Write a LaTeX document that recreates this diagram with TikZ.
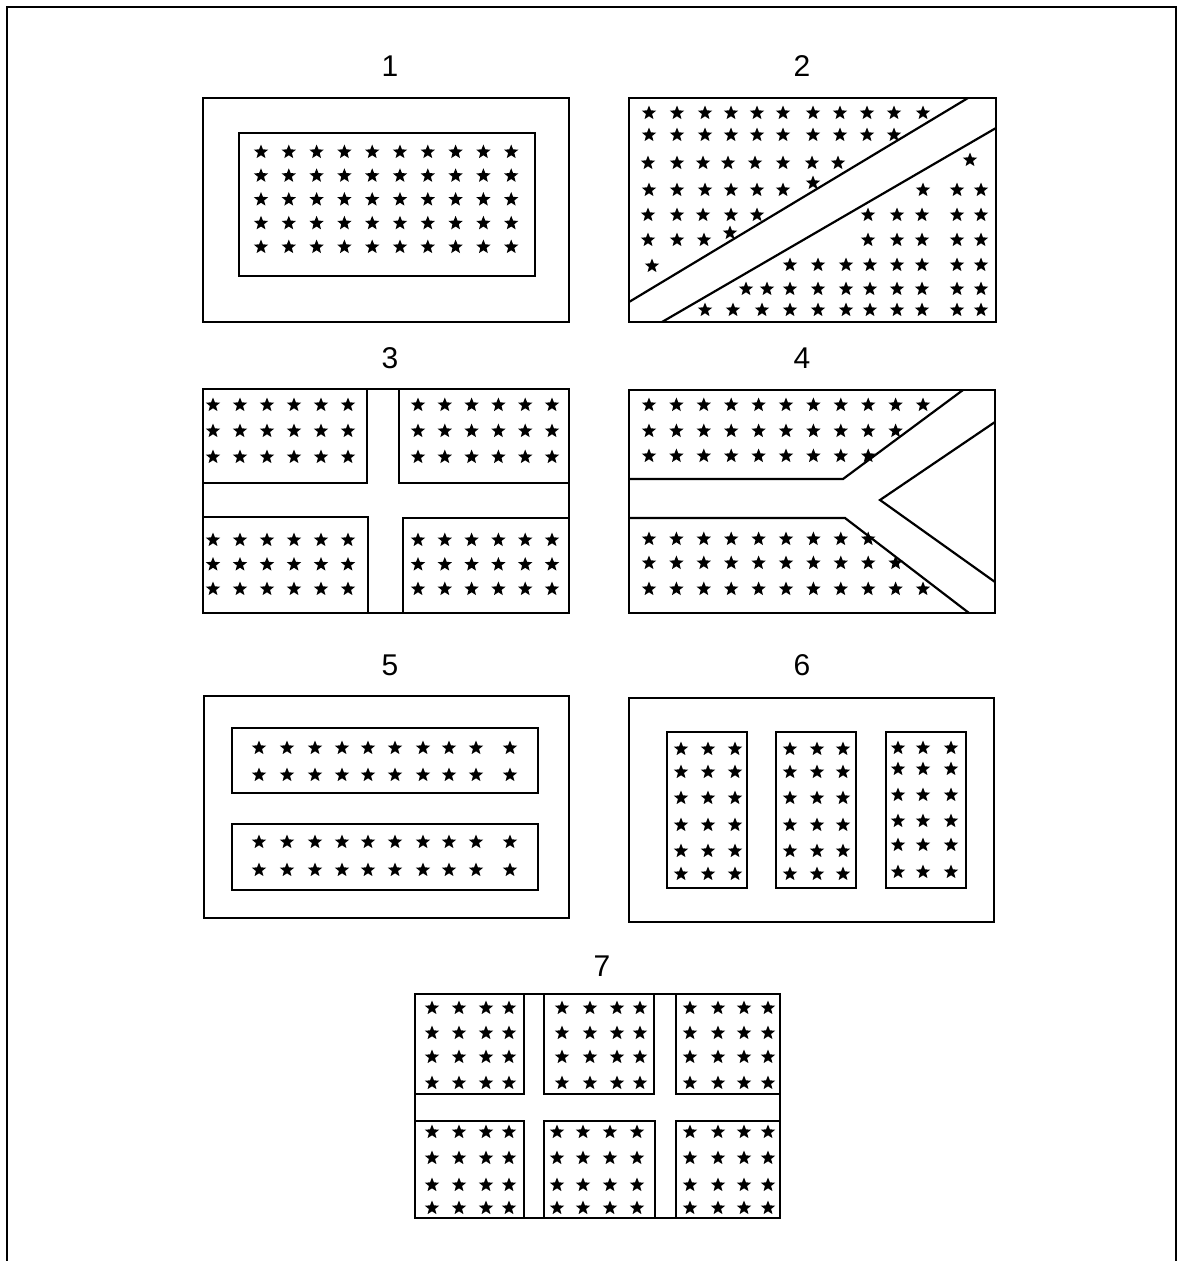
\documentclass[tikz,border=0pt]{standalone}
\usepackage{fontspec}
\setmainfont{Liberation Sans}
\usetikzlibrary{shapes.geometric}
% star positions of flag 2 (irregular, so listed by hand)
\newcommand{\flagTwoStars}{649/113,677/113,705/113,731/113,757/113,783/113,813/113,840/113,867/113,894/113,923/113,
  649/135,677/135,705/135,731/135,757/135,783/135,813/135,840/135,867/135,894/135,
  648/163,677/163,703/163,728/163,755/163,783/163,812/163,838/163,970/160,
  649/190,677/190,705/190,731/190,757/190,783/190,813/183,923/190,957/190,981/190,
  648/215,677/215,703/215,731/215,757/215,868/215,897/215,922/215,957/215,981/215,
  648/240,677/240,704/240,730/233,868/240,897/240,922/240,957/240,981/240,
  652/266,790/265,818/265,846/265,870/265,897/265,922/265,957/265,981/265,
  746/289,767/289,790/289,818/289,846/289,870/289,897/289,922/289,957/289,981/289,
  705/310,733/310,762/310,790/310,818/310,846/310,870/310,897/310,922/310,957/310,981/310}

\begin{document}
\begin{tikzpicture}[x=1pt, y=-1pt,
    flag/.style={line width=2.2pt},
    flagstar/.style={star, star points=5, star point ratio=2.3, fill=black, inner sep=0pt, minimum size=15pt},
    panelnum/.style={font=\fontsize{30}{36}\selectfont}]
  \useasboundingbox (0,0) rectangle (1178,1261);
  \draw[line width=2.5pt] (7,1261) -- (7,7) -- (1176,7) -- (1176,1261);

  % panel numbers
  \node[panelnum] (n1) at (390,66) {1};
  \node[panelnum] (n2) at (802,66) {2};
  \node[panelnum] (n3) at (390,358) {3};
  \node[panelnum] (n4) at (802,358) {4};
  \node[panelnum] (n5) at (390,665) {5};
  \node[panelnum] (n6) at (802,665) {6};
  \node[panelnum] (n7) at (602,966) {7};

  % flag 1
  \draw[flag] (203,98) rectangle (569,322);
  \draw[flag] (239,133) rectangle (535,276);
  \foreach \i in {0,...,9} \foreach \j in {0,...,4}
    \node[flagstar] (a\i\j) at ({261+27.8*\i},{152+23.75*\j}) {};

  % flag 2
  \draw[flag] (629,98) rectangle (996,322);
  \draw[flag] (629,302) -- (968,98);
  \draw[flag] (662,322) -- (996,128);
  \foreach \x/\y [count=\k] in \flagTwoStars
    \node[flagstar] (b\k) at (\x,\y) {};

  % flag 3
  \draw[flag] (203,389) rectangle (569,613);
  \draw[flag] (203,389) rectangle (367,483);
  \draw[flag] (399,389) rectangle (569,483);
  \draw[flag] (203,517) rectangle (368,613);
  \draw[flag] (403,518) rectangle (569,613);
  \foreach \i in {0,...,5} \foreach \j in {0,...,2} {
    \node[flagstar] (c1\i\j) at ({213+27*\i},{405+26*\j}) {};
    \node[flagstar] (c2\i\j) at ({418+26.8*\i},{405+26*\j}) {};
    \node[flagstar] (c3\i\j) at ({213+27*\i},{540+24.5*\j}) {};
    \node[flagstar] (c4\i\j) at ({418+26.8*\i},{540+24.5*\j}) {};
  }

  % flag 4
  \draw[flag] (629,390) rectangle (995,613);
  \draw[flag] (629,479) -- (843,479) -- (963,390);
  \draw[flag] (629,518) -- (845,518) -- (969,613);
  \draw[flag] (995,422) -- (880,500) -- (995,582);
  \foreach \y/\n [count=\r] in {405/10,431/9,456/8,539/8,563/9,589/10}
    \foreach \i in {0,...,\n}
      \node[flagstar] (d\r\i) at ({649+27.4*\i},\y) {};

  % flag 5
  \draw[flag] (204,696) rectangle (569,918);
  \draw[flag] (232,728) rectangle (538,793);
  \draw[flag] (232,824) rectangle (538,890);
  \foreach \x [count=\i] in {259,287,315,342,368,395,423,449,476,510}
    \foreach \y [count=\j] in {748,775,842,870}
      \node[flagstar] (e\i\j) at (\x,\y) {};

  % flag 6
  \draw[flag] (629,698) rectangle (994,922);
  \draw[flag] (667,732) rectangle (747,888);
  \draw[flag] (776,732) rectangle (856,888);
  \draw[flag] (886,732) rectangle (966,888);
  \foreach \y [count=\j] in {749,772,798,825,851,874} {
    \foreach \x [count=\i] in {681,708,735} \node[flagstar] (f1\i\j) at (\x,\y) {};
    \foreach \x [count=\i] in {790,817,843} \node[flagstar] (f2\i\j) at (\x,\y) {};
  }
  \foreach \y [count=\j] in {748,769,795,821,845,872}
    \foreach \x [count=\i] in {898,923,951} \node[flagstar] (f3\i\j) at (\x,\y) {};

  % flag 7
  \draw[flag] (415,994) rectangle (780,1218);
  \draw[flag] (415,994) rectangle (524,1094);
  \draw[flag] (544,994) rectangle (654,1094);
  \draw[flag] (676,994) rectangle (780,1094);
  \draw[flag] (415,1121) rectangle (524,1218);
  \draw[flag] (544,1121) rectangle (655,1218);
  \draw[flag] (676,1121) rectangle (780,1218);
  \foreach \y [count=\j] in {1008,1033,1057,1083} {
    \foreach \x [count=\i] in {432,459,486,509} \node[flagstar] (g1\i\j) at (\x,\y) {};
    \foreach \x [count=\i] in {562,590,617,640} \node[flagstar] (g2\i\j) at (\x,\y) {};
    \foreach \x [count=\i] in {690,718,744,768} \node[flagstar] (g3\i\j) at (\x,\y) {};
  }
  \foreach \y [count=\j] in {1132,1158,1185,1208} {
    \foreach \x [count=\i] in {432,459,486,509} \node[flagstar] (g4\i\j) at (\x,\y) {};
    \foreach \x [count=\i] in {557,583,610,637} \node[flagstar] (g5\i\j) at (\x,\y) {};
    \foreach \x [count=\i] in {690,718,744,768} \node[flagstar] (g6\i\j) at (\x,\y) {};
  }
\end{tikzpicture}
\end{document}
